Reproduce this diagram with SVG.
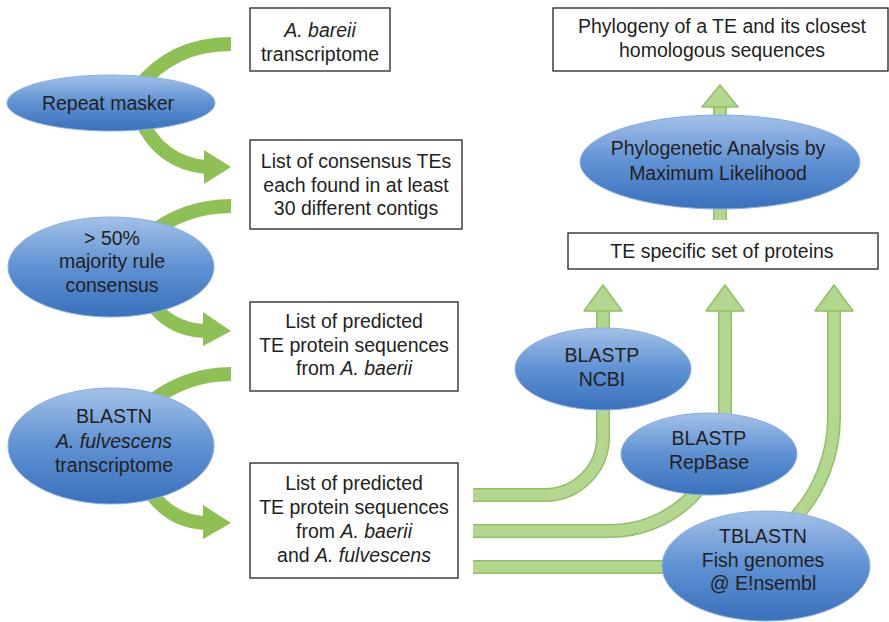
<svg xmlns="http://www.w3.org/2000/svg" width="889" height="622" viewBox="0 0 889 622">
<defs>
<linearGradient id="blue" x1="0" y1="0" x2="0" y2="1">
<stop offset="0" stop-color="#a3c1e8"/>
<stop offset="0.5" stop-color="#5f91d3"/>
<stop offset="1" stop-color="#3a71bd"/>
</linearGradient>
<style>
text{font-family:"Liberation Sans",Arial,sans-serif;font-size:19.5px;fill:#231f20;text-anchor:middle}
.it{font-style:italic}
.box{fill:#fff;stroke:#231f20;stroke-width:1.3}
.ell{fill:url(#blue);stroke:#8aaedd;stroke-width:1}
.lg{fill:none;stroke:#8fc055;stroke-width:14}
.lh{fill:#8fc055}
.ro{fill:none;stroke:#92bf66;stroke-width:14}
.ri{fill:none;stroke:#b4d78f;stroke-width:11}
.rh{fill:#b4d78f;stroke:#92bf66;stroke-width:1.5;stroke-linejoin:round}
</style>
</defs>
<rect width="889" height="622" fill="#fff"/>
<g id="connectors">
<path class="lg" d="M231,44 Q172,44 138,88"/>
<path class="lg" d="M140,118 Q160,163 206,167"/>
<polygon class="lh" points="231,167 204,150 204,184"/>
<path class="lg" d="M231,206 Q185,206 148,235"/>
<path class="lg" d="M148,298 Q168,330 205,331"/>
<polygon class="lh" points="231,331 203,312 203,346"/>
<path class="lg" d="M231,374 Q185,374 148,404"/>
<path class="lg" d="M148,488 Q168,521 205,523"/>
<polygon class="lh" points="231,523 203,505 203,539"/>
<path class="ro" d="M473,495 H545 A58,58 0 0 0 603,437 V310"/>
<path class="ri" d="M473,495 H545 A58,58 0 0 0 603,437 V310"/>
<polygon class="rh" points="603,285 584,311 622,311"/>
<path class="ro" d="M473,531 H610 A115,115 0 0 0 725,416 V310"/>
<path class="ri" d="M473,531 H610 A115,115 0 0 0 725,416 V310"/>
<polygon class="rh" points="725,285 706,311 744,311"/>
<path class="ro" d="M473,567 H684 A150,150 0 0 0 834,417 V310"/>
<path class="ri" d="M473,567 H684 A150,150 0 0 0 834,417 V310"/>
<polygon class="rh" points="834,285 815,311 853,311"/>
<path class="ro" d="M720,220 V106"/>
<path class="ri" d="M720,220 V106"/>
<polygon class="rh" points="720,85 702,107 738,107"/>
</g>
<g id="box-abareii">
<rect class="box" x="250" y="8" width="140" height="63"/>
<text x="320" y="37" class="it">A. bareii</text>
<text x="320" y="61">transcriptome</text>
</g>
<g id="box-consensus">
<rect class="box" x="250" y="140" width="212" height="89"/>
<text x="356" y="168">List of consensus TEs</text>
<text x="356" y="192">each found in at least</text>
<text x="356" y="215">30 different contigs</text>
</g>
<g id="box-predicted1">
<rect class="box" x="250" y="302" width="208" height="89"/>
<text x="354" y="328">List of predicted</text>
<text x="354" y="352">TE protein sequences</text>
<text x="354" y="375">from <tspan class="it">A. baerii</tspan></text>
</g>
<g id="box-predicted2">
<rect class="box" x="250" y="463" width="208" height="115"/>
<text x="354" y="490">List of predicted</text>
<text x="354" y="514">TE protein sequences</text>
<text x="354" y="538">from <tspan class="it">A. baerii</tspan></text>
<text x="354" y="562">and <tspan class="it">A. fulvescens</tspan></text>
</g>
<g id="box-phylogeny">
<rect class="box" x="553" y="8" width="335" height="63"/>
<text x="722" y="33">Phylogeny of a TE and its closest</text>
<text x="722" y="57">homologous sequences</text>
</g>
<g id="box-te-specific">
<rect class="box" x="568" y="233" width="310" height="36"/>
<text x="722" y="258">TE specific set of proteins</text>
</g>
<g id="ell-repeat">
<ellipse class="ell" cx="111" cy="103" rx="104" ry="28"/>
<text x="108" y="110">Repeat masker</text>
</g>
<g id="ell-majority">
<ellipse class="ell" cx="111" cy="267" rx="103" ry="50"/>
<text x="112" y="245">&gt; 50%</text>
<text x="112" y="268">majority rule</text>
<text x="112" y="292">consensus</text>
</g>
<g id="ell-blastn">
<ellipse class="ell" cx="111" cy="446" rx="103" ry="58"/>
<text x="114" y="423">BLASTN</text>
<text x="114" y="448" class="it">A. fulvescens</text>
<text x="114" y="472">transcriptome</text>
</g>
<g id="ell-phylo">
<ellipse class="ell" cx="720" cy="162" rx="140" ry="47"/>
<text x="718" y="155">Phylogenetic Analysis by</text>
<text x="718" y="180">Maximum Likelihood</text>
</g>
<g id="ell-ncbi">
<ellipse class="ell" cx="603" cy="369" rx="88" ry="41"/>
<text x="602" y="362">BLASTP</text>
<text x="602" y="386">NCBI</text>
</g>
<g id="ell-repbase">
<ellipse class="ell" cx="709" cy="454" rx="88" ry="41"/>
<text x="709" y="445">BLASTP</text>
<text x="709" y="469">RepBase</text>
</g>
<g id="ell-tblastn">
<ellipse class="ell" cx="766" cy="566" rx="104" ry="55"/>
<text x="763" y="543">TBLASTN</text>
<text x="763" y="567">Fish genomes</text>
<text x="763" y="590">@ E!nsembl</text>
</g>
</svg>
